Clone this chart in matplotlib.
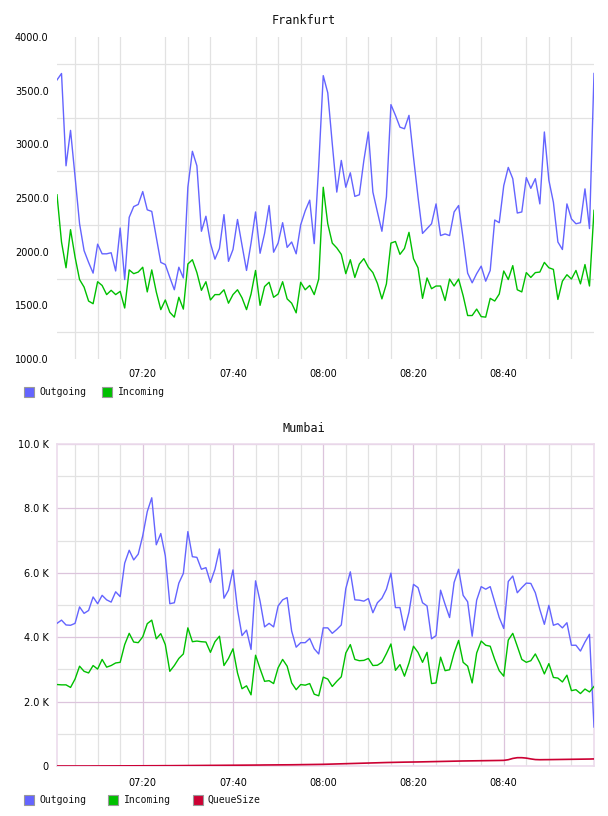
import matplotlib
matplotlib.use("Agg")
import matplotlib.pyplot as plt
from matplotlib.patches import Rectangle
from matplotlib.ticker import FixedLocator

# ---------------- data ----------------
start_minute = 421          # 07:01, one sample per minute
n_points = 120
minutes = [start_minute + k for k in range(n_points)]

x_tick_pos = [440, 460, 480, 500, 520]
x_tick_labels = ["07:20", "07:40", "08:00", "08:20", "08:40"]

fra_title = "Frankfurt"
fra_outgoing = [
    3600, 3660, 2800, 3130, 2700, 2260, 2010, 1900, 1800, 2070,
    1980, 1980, 1990, 1820, 2220, 1740, 2320, 2420, 2440, 2560,
    2390, 2375, 2135, 1900, 1880, 1760, 1645, 1855, 1755, 2600,
    2935, 2800, 2190, 2330, 2080, 1930, 2030, 2345, 1910, 2020,
    2300, 2060, 1825, 2080, 2370, 1985, 2170, 2430, 1995, 2080,
    2270, 2040, 2090, 1980, 2250, 2380, 2480, 2075, 2800, 3640,
    3480, 3005, 2555, 2850, 2600, 2735, 2515, 2530, 2850, 3115,
    2555, 2370, 2190, 2510, 3370, 3270, 3160, 3145, 3270, 2880,
    2510, 2170, 2215, 2260, 2445, 2150, 2165, 2150, 2370, 2430,
    2120, 1800, 1710, 1795, 1865, 1725, 1825, 2295, 2270, 2615,
    2785, 2680, 2360, 2370, 2690, 2590, 2680, 2445, 3115, 2665,
    2460, 2090, 2020, 2445, 2305, 2260, 2270, 2585, 2215, 3660,
]
fra_incoming = [
    2530, 2090, 1850, 2205, 1950, 1740, 1670, 1540, 1515, 1720,
    1685, 1600, 1640, 1600, 1630, 1475, 1830, 1795, 1810, 1855,
    1625, 1830, 1625, 1460, 1550, 1435, 1390, 1575, 1465, 1885,
    1925, 1805, 1640, 1720, 1550, 1600, 1600, 1645, 1520, 1600,
    1645, 1570, 1460, 1605, 1825, 1500, 1675, 1715, 1575, 1605,
    1720, 1560, 1520, 1430, 1715, 1645, 1685, 1600, 1745, 2600,
    2260, 2080, 2035, 1975, 1795, 1925, 1760, 1885, 1935, 1855,
    1805, 1705, 1560, 1700, 2080, 2095, 1975, 2030, 2180, 1935,
    1850, 1565, 1755, 1655, 1680, 1680, 1545, 1745, 1680, 1745,
    1590, 1405, 1405, 1465, 1395, 1390, 1565, 1540, 1605, 1820,
    1740, 1870, 1645, 1625, 1805, 1760, 1805, 1810, 1900, 1850,
    1835, 1555, 1725, 1785, 1745, 1825, 1700, 1880, 1680, 2385,
]
fra_y_ticks = [1000, 1500, 2000, 2500, 3000, 3500, 4000]
fra_y_labels = ["1000.0", "1500.0", "2000.0", "2500.0", "3000.0", "3500.0", "4000.0"]

mum_title = "Mumbai"
mum_outgoing = [
    4430, 4530, 4380, 4370, 4430, 4940, 4740, 4830, 5250, 5040,
    5300, 5160, 5090, 5410, 5260, 6300, 6700, 6400, 6580, 7150,
    7900, 8330, 6870, 7220, 6530, 5040, 5070, 5680, 5980, 7280,
    6500, 6480, 6110, 6160, 5700, 6110, 6740, 5210, 5460, 6090,
    4860, 4050, 4220, 3620, 5750, 5120, 4320, 4430, 4320, 4970,
    5160, 5230, 4190, 3690, 3830, 3830, 3960, 3640, 3480, 4290,
    4290, 4120, 4240, 4380, 5510, 6030, 5160, 5150, 5120, 5200,
    4760, 5070, 5210, 5490, 5990, 4920, 4920, 4220, 4780, 5640,
    5540, 5070, 4970, 3950, 4050, 5460, 5020, 4610, 5700, 6110,
    5300, 5100, 4030, 5150, 5570, 5490, 5570, 5090, 4610, 4270,
    5730, 5900, 5380, 5540, 5680, 5670, 5380, 4860, 4400, 4990,
    4370, 4420, 4290, 4450, 3750, 3750, 3570, 3850, 4090, 1210,
]
mum_incoming = [
    2530, 2520, 2520, 2440, 2700, 3100, 2940, 2890, 3120, 3010,
    3310, 3070, 3120, 3200, 3220, 3770, 4120, 3850, 3830, 4010,
    4420, 4530, 3950, 4110, 3770, 2940, 3120, 3340, 3480, 4290,
    3860, 3880, 3860, 3850, 3530, 3860, 4030, 3120, 3340, 3640,
    2890, 2400, 2490, 2210, 3440, 3020, 2630, 2650, 2560, 3050,
    3310, 3100, 2580, 2370, 2530, 2510, 2560, 2230, 2180, 2760,
    2700, 2470, 2630, 2770, 3510, 3770, 3310, 3270, 3280, 3340,
    3120, 3130, 3220, 3490, 3790, 2970, 3150, 2790, 3200, 3720,
    3530, 3220, 3530, 2560, 2580, 3380, 2960, 2990, 3510, 3900,
    3220, 3100, 2580, 3510, 3880, 3750, 3720, 3310, 2960, 2790,
    3910, 4120, 3720, 3310, 3220, 3270, 3480, 3200, 2860, 3180,
    2750, 2730, 2610, 2820, 2340, 2370, 2250, 2390, 2300, 2470,
]
mum_queue = [
    0, 0, 0, 0, 0, 0, 0, 0, 1, 1,
    2, 2, 3, 3, 4, 4, 5, 5, 6, 6,
    7, 8, 8, 9, 10, 10, 11, 12, 13, 14,
    15, 16, 17, 18, 19, 20, 21, 22, 23, 24,
    25, 26, 27, 28, 29, 30, 32, 33, 34, 35,
    36, 37, 38, 40, 42, 44, 46, 48, 50, 52,
    56, 60, 64, 68, 72, 76, 80, 84, 88, 92,
    96, 100, 104, 108, 111, 114, 117, 120, 122, 124,
    126, 129, 132, 135, 138, 141, 144, 147, 150, 153,
    156, 158, 160, 162, 164, 166, 168, 170, 172, 175,
    195, 235, 258, 258, 245, 220, 200, 195, 197, 198,
    200, 202, 204, 206, 208, 210, 212, 214, 216, 220,
]
mum_y_ticks = [0, 2000, 4000, 6000, 8000, 10000]
mum_y_labels = ["0", "2.0 K", "4.0 K", "6.0 K", "8.0 K", "10.0 K"]

series_names = ["Outgoing", "Incoming", "QueueSize"]
series_colors = ["#6464ff", "#00c000", "#cc0033"]

# ---------------- layout ----------------
W, H = 608, 816
fig = plt.figure(figsize=(W / 100, H / 100), dpi=100)


def rect(l, t, r, b):
    return [l / W, 1 - b / H, (r - l) / W, (b - t) / H]


TICK_FONT = dict(family="DejaVu Sans", size=7)
MONO = "DejaVu Sans Mono"
GREY = "#e2e2e2"
PURPLE = "#dcc4dc"
BORDER = "#ecdcec"

minor_x = [m for m in range(425, 540, 5)]

# ---- Frankfurt ----
ax1 = fig.add_axes(rect(57, 37, 594, 359))
ax1.plot(minutes, fra_outgoing, color=series_colors[0], lw=1.0)
ax1.plot(minutes, fra_incoming, color=series_colors[1], lw=1.0)
ax1.set_xlim(421, 540)
ax1.set_ylim(1000, 4000)
for s in ax1.spines.values():
    s.set_visible(False)
ax1.set_yticks(fra_y_ticks)
ax1.set_yticklabels(fra_y_labels, **TICK_FONT)
ax1.yaxis.set_minor_locator(FixedLocator([1250, 1750, 2250, 2750, 3250, 3750]))
ax1.set_xticks(x_tick_pos)
ax1.set_xticklabels(x_tick_labels, **TICK_FONT)
ax1.xaxis.set_minor_locator(FixedLocator(minor_x))
ax1.tick_params(which="both", length=0)
ax1.tick_params(axis="y", pad=6)
ax1.tick_params(axis="x", pad=7)
ax1.grid(False, which="major")
ax1.grid(True, which="minor", color=GREY, lw=0.9)
ax1.set_axisbelow(True)
fig.text(0.5, 1 - 20 / H, fra_title, ha="center", va="center",
         family=MONO, fontsize=8.5, color="#111111")

# ---- Mumbai ----
ax2 = fig.add_axes(rect(57, 444, 594, 766))
ax2.plot(minutes, mum_outgoing, color=series_colors[0], lw=1.0, zorder=3)
ax2.plot(minutes, mum_incoming, color=series_colors[1], lw=1.0, zorder=3)
ax2.plot(minutes, mum_queue, color=series_colors[2], lw=1.2, zorder=4)
ax2.set_xlim(421, 540)
ax2.set_ylim(0, 10000)
for s in ax2.spines.values():
    s.set_color(BORDER)
    s.set_linewidth(1.2)
ax2.set_yticks(mum_y_ticks)
ax2.set_yticklabels(mum_y_labels, **TICK_FONT)
ax2.yaxis.set_minor_locator(FixedLocator([1000, 3000, 5000, 7000, 9000]))
ax2.set_xticks(x_tick_pos)
ax2.set_xticklabels(x_tick_labels, **TICK_FONT)
ax2.xaxis.set_minor_locator(FixedLocator([m for m in minor_x if m not in x_tick_pos]))
ax2.tick_params(which="both", length=0)
ax2.tick_params(axis="y", pad=6)
ax2.tick_params(axis="x", pad=8.5)
ax2.grid(True, which="major", color=PURPLE, lw=0.9)
ax2.grid(True, which="minor", color=GREY, lw=0.9)
ax2.set_axisbelow(True)
fig.text(0.5, 1 - 429 / H, mum_title, ha="center", va="center",
         family=MONO, fontsize=8.5, color="#111111")


# ---- legends ----
def legend_item(x_box, x_text, y_center, color, label):
    fig.add_artist(Rectangle((x_box / W, 1 - (y_center + 5) / H), 10 / W, 10 / H,
                             transform=fig.transFigure, facecolor=color,
                             edgecolor="#999999", lw=0.8))
    fig.text(x_text / W, 1 - y_center / H, label, ha="left", va="center",
             family=MONO, fontsize=7, color="#111111")


legend_item(24, 39, 392, series_colors[0], series_names[0])
legend_item(102, 118, 392, series_colors[1], series_names[1])
legend_item(24, 39, 800, series_colors[0], series_names[0])
legend_item(108, 124, 800, series_colors[1], series_names[1])
legend_item(192.5, 207, 800, series_colors[2], series_names[2])

fig.savefig("out.png", dpi=100)
